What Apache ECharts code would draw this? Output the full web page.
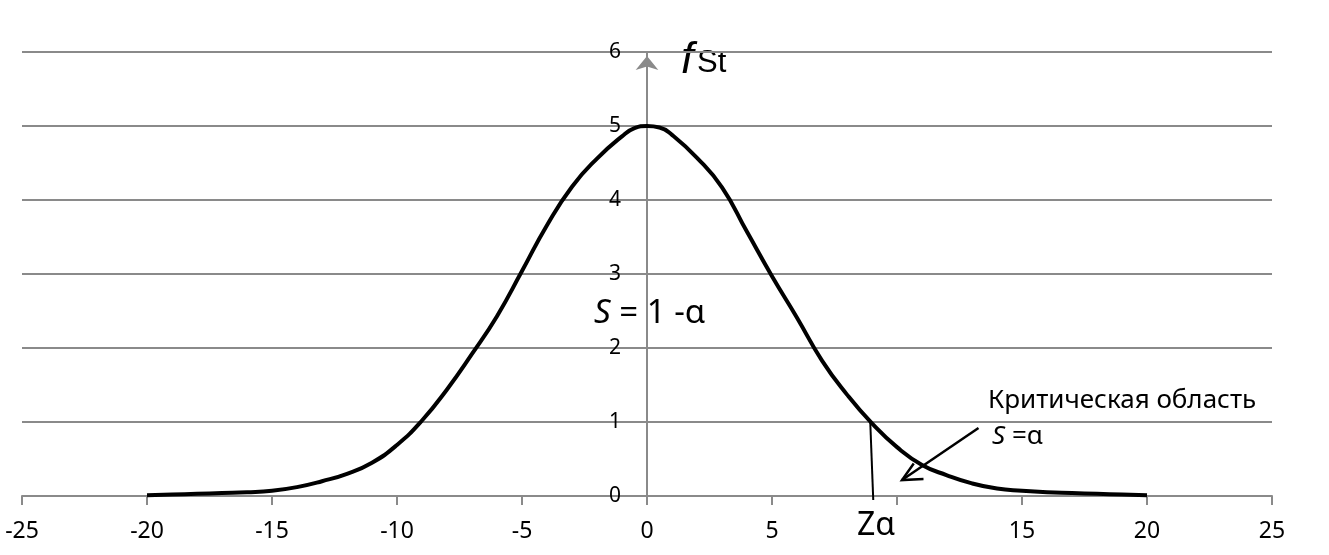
<!DOCTYPE html>
<html>
<head>
<meta charset="utf-8">
<script src="https://cdn.jsdelivr.net/npm/echarts@6/dist/echarts.min.js"></script>
<style>
html,body{margin:0;padding:0;background:#fff;}
#c{width:1329px;height:555px;}
</style>
</head>
<body>
<div id="c"></div>
<script>
// Curve values (x, f)
const curveX = [-20, -19, -18, -17, -16, -15, -14, -13, -12, -11, -10, -9, -8, -7, -6, -5, -4, -3, -2, -1, -0.5, 0, 0.5, 1, 2, 3, 4, 5, 6, 7, 8, 9, 10, 11, 12, 13, 14, 15, 16, 17, 18, 19, 20];
const curveY = [0.01, 0.02, 0.03, 0.04, 0.05, 0.07, 0.12, 0.2, 0.3, 0.45, 0.69, 1.02, 1.44, 1.92, 2.43, 3.04, 3.66, 4.18, 4.56, 4.86, 4.97, 5.0, 4.98, 4.88, 4.57, 4.17, 3.57, 2.97, 2.41, 1.83, 1.37, 0.98, 0.66, 0.42, 0.28, 0.17, 0.1, 0.07, 0.05, 0.04, 0.03, 0.02, 0.01];
// Z-alpha marker line
const zLineX = [8.93, 9.05];
const zLineY = [1.0, -0.055];
// Arrow to critical region
const arrowX = [13.26, 10.2];
const arrowY = [0.92, 0.216];
const arrowHeadX = [10.67, 10.2, 11.06];
const arrowHeadY = [0.44, 0.216, 0.23];
// Axis tick settings
const xTicks = {min: -25, max: 25, interval: 5};
const yTicks = {min: 0, max: 6, interval: 1};
const hiddenXLabels = [10];

const zip = (a, b) => a.map((v, i) => [v, b[i]]);
const gridColor = '#8a8a8a';
const gridLeft = 22, gridRight = 57;
const plotW = 1329 - gridLeft - gridRight;
const zeroOffset = plotW * (0 - xTicks.min) / (xTicks.max - xTicks.min);

const chart = echarts.init(document.getElementById('c'), null, {renderer: 'canvas'});
chart.setOption({
  animation: false,
  backgroundColor: '#fff',
  grid: {left: gridLeft, right: gridRight, top: 52, bottom: 59, containLabel: false, outerBoundsMode: 'none'},
  xAxis: {
    type: 'value', min: xTicks.min, max: xTicks.max, interval: xTicks.interval,
    axisLine: {show: true, onZero: true, lineStyle: {color: gridColor, width: 2}},
    axisTick: {show: true, length: 9, lineStyle: {color: gridColor, width: 2}},
    axisLabel: {color: '#000', fontSize: 23, fontFamily: 'Noto Sans', margin: 24,
      formatter: v => hiddenXLabels.includes(v) ? '' : String(v)},
    splitLine: {show: false}
  },
  yAxis: {
    type: 'value', min: yTicks.min, max: yTicks.max, interval: yTicks.interval,
    offset: -zeroOffset,
    axisLine: {show: true, onZero: false, symbol: ['none', 'arrow'], symbolSize: [17, 14], symbolOffset: [0, -4],
      lineStyle: {color: gridColor, width: 2}},
    axisTick: {show: false},
    axisLabel: {color: '#000', fontSize: 21, fontFamily: 'Noto Sans', margin: 26},
    splitLine: {show: true, lineStyle: {color: gridColor, width: 2}}
  },
  series: [
    {type: 'line', data: zip(curveX, curveY), smooth: 0.5, symbol: 'none',
      lineStyle: {color: '#000', width: 4}, z: 5},
    {type: 'line', data: zip(zLineX, zLineY), symbol: 'none', clip: false,
      lineStyle: {color: '#000', width: 2}},
    {type: 'line', data: zip(arrowX, arrowY), symbol: 'none', clip: false,
      lineStyle: {color: '#000', width: 2.5}},
    {type: 'line', data: zip(arrowHeadX, arrowHeadY), symbol: 'none', clip: false,
      lineStyle: {color: '#000', width: 2.5, join: 'miter'}}
  ],
  graphic: [
    {type: 'text', left: 681, top: 38, style: {text: 'f', font: 'italic 45px "Liberation Sans"', fill: '#000'}},
    {type: 'text', left: 697, top: 48, style: {text: 'St', font: '31px "Liberation Sans"', fill: '#000'}},
    {type: 'text', left: 594, top: 297, style: {
      text: '{i|S} = 1 -α', font: '33px "Noto Sans"', fill: '#000',
      rich: {i: {fontStyle: 'italic', fontSize: 33, fontFamily: 'Noto Sans'}}}},
    {type: 'text', left: 988, top: 388, style: {text: 'Критическая область', font: '26px "Noto Sans"', fill: '#000'}},
    {type: 'text', left: 992, top: 424, style: {
      text: '{i|S} =α', font: '26px "Noto Sans"', fill: '#000',
      rich: {i: {fontStyle: 'italic', fontSize: 26, fontFamily: 'Noto Sans'}}}},
    {type: 'text', left: 857, top: 510, style: {text: 'Zα', font: '32px "Noto Sans"', fill: '#000'}}
  ]
});
</script>
</body>
</html>
